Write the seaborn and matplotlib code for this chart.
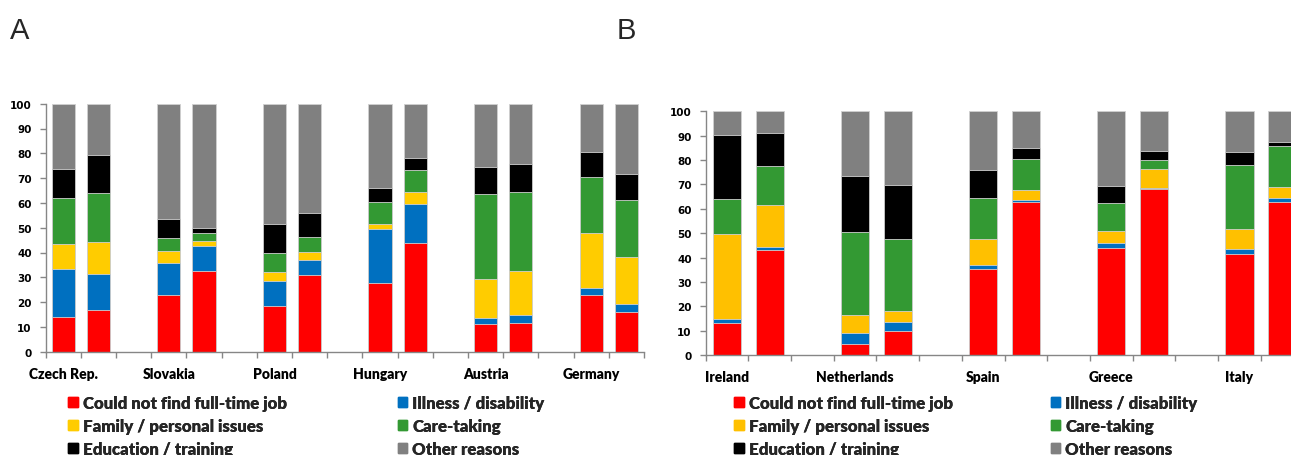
import matplotlib
matplotlib.use('Agg')
import matplotlib.pyplot as plt
import numpy as np
import seaborn as sns

# Panel A: two bars per country
countries_a = ['Czech Rep.', 'Slovakia', 'Poland', 'Hungary', 'Austria', 'Germany']
red_a = [13.8, 16.9, 23.0, 32.4, 18.4, 30.9, 27.7, 43.7, 11.2, 11.7, 23.0, 15.9]
blue_a = [19.4, 14.6, 12.9, 10.3, 10.0, 6.1, 21.8, 16.0, 2.2, 3.1, 2.8, 3.3]
yellow_a = [10.2, 12.7, 4.7, 2.1, 3.7, 3.2, 2.0, 4.8, 15.8, 17.7, 22.2, 19.1]
green_a = [18.6, 19.8, 5.2, 2.9, 7.8, 6.2, 9.0, 8.8, 34.5, 32.0, 22.3, 22.9]
black_a = [11.5, 15.4, 7.6, 2.2, 11.7, 9.5, 5.4, 4.7, 10.8, 11.3, 10.2, 10.6]
gray_a = [26.5, 20.6, 46.6, 50.1, 48.4, 44.1, 34.1, 22.0, 25.5, 24.2, 19.5, 28.2]

# Panel B
countries_b = ['Ireland', 'Netherlands', 'Spain', 'Greece', 'Italy']
red_b = [13.0, 43.0, 4.4, 9.7, 35.4, 62.7, 44.0, 68.3, 41.5, 62.9]
blue_b = [1.9, 1.3, 4.8, 4.0, 1.5, 0.9, 1.8, 0.4, 2.0, 1.5]
yellow_b = [34.6, 17.3, 7.1, 4.2, 10.6, 4.3, 5.1, 7.5, 8.2, 4.7]
green_b = [14.5, 16.1, 34.3, 29.8, 16.9, 12.5, 11.5, 4.0, 26.1, 16.7]
black_b = [26.3, 13.5, 23.0, 22.1, 11.7, 4.7, 7.0, 3.5, 5.5, 1.8]
gray_b = [9.7, 8.8, 26.4, 30.2, 23.9, 14.9, 30.6, 16.3, 16.7, 12.4]

reasons = ['Could not find full-time job', 'Illness / disability',
           'Family / personal issues', 'Care-taking',
           'Education / training', 'Other reasons']
colors_a = ['#ff0000', '#0070c0', '#ffcc00', '#339933', '#000000', '#808080']
colors_b = ['#ff0000', '#0070c0', '#ffc000', '#339933', '#000000', '#808080']

sns.set_theme(style='white')
plt.rcParams['font.family'] = ['Lato', 'DejaVu Sans']

W, H = 1291, 456
fig = plt.figure(figsize=(W / 100, H / 100), dpi=100)


def draw_panel(ax, countries, segments, colors):
    n = len(countries) * 3 - 1
    order = [str(i) for i in range(n)]
    bar_slots = [str(3 * i + j) for i in range(len(countries)) for j in range(2)]
    cum = np.cumsum(np.array(segments), axis=0)
    # draw from the top layer down so each lower stack covers the one before
    for k in range(len(segments) - 1, -1, -1):
        sns.barplot(x=bar_slots, y=cum[k], order=order, color=colors[k],
                    saturation=1, width=0.66, edgecolor='#d0d0d0',
                    linewidth=0.6, ax=ax)
    ax.set_xlim(-0.5, n - 0.5)
    ax.set_ylim(0, 100)
    ax.set_xlabel('')
    ax.set_ylabel('')
    ax.set_yticks(range(0, 101, 10))
    ax.set_xticks(np.arange(-0.5, n), labels=[])
    ax.set_xticks([3 * i for i in range(len(countries))], labels=countries,
                  minor=True)
    ax.tick_params(axis='x', which='major', length=4, width=1,
                   color='#868686', direction='out', bottom=True)
    ax.tick_params(axis='x', which='minor', length=0, pad=11, bottom=True)
    ax.tick_params(axis='y', length=4, width=1, color='#868686',
                   direction='out', left=True, pad=6)
    for lab in ax.get_xticklabels(minor=True):
        lab.set_fontweight('heavy')
        lab.set_fontsize(10)
        lab.set_color('black')
    for lab in ax.get_yticklabels():
        lab.set_fontfamily('DejaVu Sans')
        lab.set_fontweight('bold')
        lab.set_fontsize(7.5)
        lab.set_color('black')
    sns.despine(ax=ax)
    for s in ['left', 'bottom']:
        ax.spines[s].set_color('#868686')
        ax.spines[s].set_linewidth(1)


def add_legend(colors, x_cols, y_mid):
    handles = [plt.Rectangle((0, 0), 1, 1, color=c) for c in colors]
    for col, x in enumerate(x_cols):
        idx = [col, col + 2, col + 4]
        leg = fig.legend([handles[i] for i in idx], [reasons[i] for i in idx],
                         loc='center left', bbox_to_anchor=(x / W, 1 - y_mid / H),
                         frameon=False, borderpad=0, borderaxespad=0,
                         handlelength=0.55, handleheight=0.55,
                         handletextpad=0.3, labelspacing=0.43,
                         prop={'weight': 'heavy', 'size': 12.2})
        fig.add_artist(leg)


ax_a = fig.add_axes([45.7 / W, 1 - 352.7 / H, 598.3 / W, 248 / H])
draw_panel(ax_a, countries_a,
           [red_a, blue_a, yellow_a, green_a, black_a, gray_a], colors_a)

ax_b = fig.add_axes([705.7 / W, 1 - 356 / H, 597.8 / W, 243.7 / H])
draw_panel(ax_b, countries_b,
           [red_b, blue_b, yellow_b, green_b, black_b, gray_b], colors_b)

add_legend(colors_a, [68.3, 398], 427)
add_legend(colors_b, [734.3, 1051], 427)

fig.text(10 / W, 1 - 39.3 / H, 'A', fontsize=21, family='Liberation Sans',
         va='baseline')
fig.text(617 / W, 1 - 39.3 / H, 'B', fontsize=21, family='Liberation Sans',
         va='baseline')

fig.savefig('out.png', dpi=100)
